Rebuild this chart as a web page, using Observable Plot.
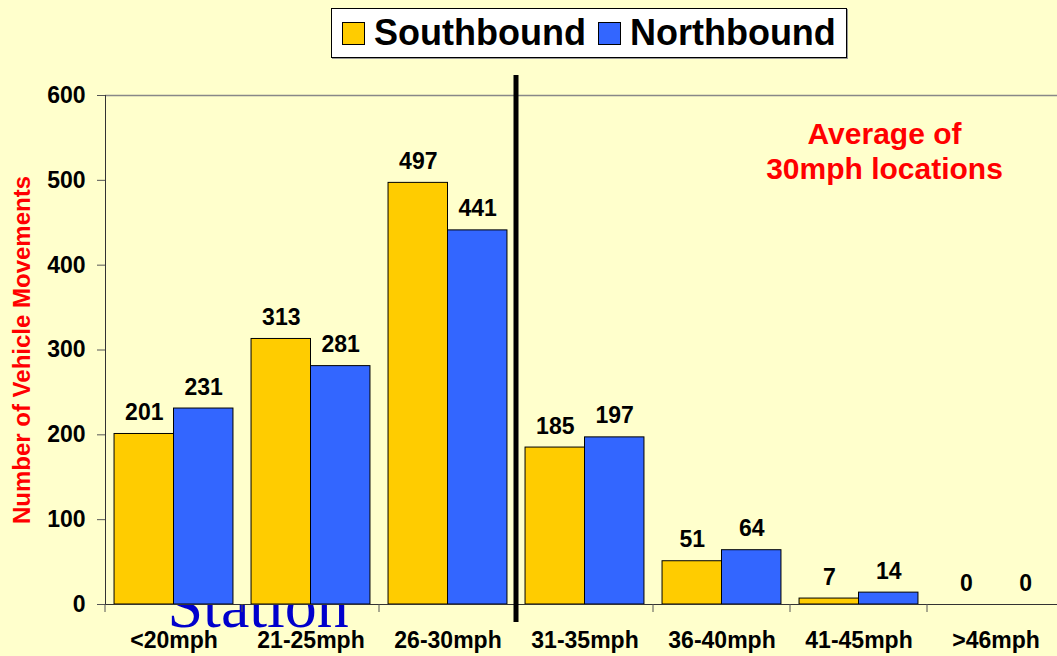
<!DOCTYPE html>
<html>
<head>
<meta charset="utf-8">
<script src="https://cdn.jsdelivr.net/npm/d3@7"></script>
<script src="https://cdn.jsdelivr.net/npm/@observablehq/plot@0.6"></script>
<style>
  html, body { margin: 0; padding: 0; background: #FFFFCC; }
  #wrap { position: relative; width: 1057px; height: 656px; overflow: hidden; background: #FFFFCC; }
  #legend {
    position: absolute; left: 331px; top: 8px; width: 514px; height: 48px; box-sizing: content-box;
    background: #fff; border: 1px solid #000; box-shadow: 1px 1px 0 #999;
    display: flex; align-items: center; justify-content: flex-start; gap: 12px; padding-left: 0;
    font-family: "Liberation Sans", Arial, sans-serif; font-weight: bold; font-size: 36px; color: #000;
  }
  #legend .sw { display: inline-block; width: 21px; height: 21px; border: 1px solid #000; margin-right: 9px; }
  #legend .item { display: flex; align-items: center; }
  #legend .item:first-child { margin-left: 10px; }
</style>
</head>
<body>
<div id="wrap"></div>
<script>
// ---- data ----
const categories = ["<20mph", "21-25mph", "26-30mph", "31-35mph", "36-40mph", "41-45mph", ">46mph"];
const southbound = [201, 313, 497, 185, 51, 7, 0];
const northbound = [231, 281, 441, 197, 64, 14, 0];
const seriesNames = ["Southbound", "Northbound"];
const seriesColors = ["#FFCC00", "#3366FF"];
const yTicks = [0, 100, 200, 300, 400, 500, 600];
const yTitle = "Number of Vehicle Movements";
const annotation = "Average of\n30mph locations";
const dividerBefore = "31-35mph";
const stray = "Station";

const sData = categories.map((c, i) => ({cat: c, dir: seriesNames[0], value: southbound[i]}));
const nData = categories.map((c, i) => ({cat: c, dir: seriesNames[1], value: northbound[i]}));

// ---- layout ----
const W = 1057, H = 656;
const plotLeft = 105, plotRight = 1064, plotTop = 95, plotBottom = 604;
const step = (plotRight - plotLeft) / categories.length;
const pad = step * 0.066;
const half = (step - 2 * pad) / 2;
const font = "'Liberation Sans', Arial, sans-serif";

function boundaryTicks(index, scales, values, dims) {
  const g = d3.create("svg:g");
  const x = scales.x;
  const bw = x.bandwidth ? x.bandwidth() : step;
  const y0 = dims.height - dims.marginBottom;
  const edges = categories.map(c => x(c)).concat([x(categories[categories.length - 1]) + bw]);
  for (const e of edges) {
    g.append("line").attr("x1", e).attr("x2", e).attr("y1", y0).attr("y2", y0 + 8)
      .attr("stroke", "#555").attr("stroke-width", 1);
  }
  const xd = x(dividerBefore);
  g.append("line").attr("x1", xd).attr("x2", xd)
    .attr("y1", dims.marginTop - 20).attr("y2", y0 + 18)
    .attr("stroke", "#000").attr("stroke-width", 5);
  return g.node();
}

const chart = Plot.plot({
  width: W, height: H,
  marginLeft: plotLeft, marginRight: 0, marginTop: plotTop, marginBottom: H - plotBottom,
  style: {background: "transparent", fontFamily: font, overflow: "visible"},
  x: {domain: categories, range: [plotLeft, plotRight], padding: 0, axis: null},
  y: {domain: [0, 600], axis: null},
  marks: [
    Plot.text([stray], {frameAnchor: "bottom-left", dx: 62, dy: 22, textAnchor: "start", lineAnchor: "bottom",
      fontFamily: "'Liberation Serif', 'Times New Roman', serif", fontSize: 64, fill: "#0000CC"}),
    Plot.frame({fill: "#FFFFCC", stroke: null}),
    Plot.ruleY([600], {stroke: "#888", strokeWidth: 1.5}),
    Plot.barY(sData, {x: "cat", y: "value", fill: seriesColors[0], stroke: "#000", strokeWidth: 1,
      insetLeft: pad, insetRight: step - pad - half}),
    Plot.barY(nData, {x: "cat", y: "value", fill: seriesColors[1], stroke: "#000", strokeWidth: 1,
      insetLeft: pad + half, insetRight: pad}),
    Plot.frame({anchor: "left", stroke: "#333"}),
    Plot.frame({anchor: "bottom", stroke: "#333"}),
    Plot.axisY({ticks: yTicks, tickSize: 8, tickPadding: 12, fontSize: 23, fontWeight: "bold",
      fill: "#000", stroke: "#555", label: null}),
    Plot.axisX({tickSize: 0, tickPadding: 27, fontSize: 23, fontWeight: "bold", fill: "#000", label: null}),
    boundaryTicks,
    Plot.text(sData, {x: "cat", y: "value", text: d => String(d.value), dx: -(step / 2 - pad - half / 2), dy: -14,
      lineAnchor: "bottom", fontSize: 23, fontWeight: "bold", fill: "#000"}),
    Plot.text(nData, {x: "cat", y: "value", text: d => String(d.value), dx: (step / 2 - pad - half / 2), dy: -14,
      lineAnchor: "bottom", fontSize: 23, fontWeight: "bold", fill: "#000"}),
    Plot.text([yTitle], {frameAnchor: "left", textAnchor: "middle", rotate: -90, dx: -83, fontSize: 24,
      fontWeight: "bold", fill: "#FF0000"}),
    Plot.text([annotation], {frameAnchor: "top-right", textAnchor: "middle", lineAnchor: "middle",
      dx: -173, dy: 55, lineHeight: 1.17, fontSize: 30, fontWeight: "bold", fill: "#FF0000"})
  ]
});

const wrap = document.getElementById("wrap");
wrap.appendChild(chart);
const legend = document.createElement("div");
legend.id = "legend";
legend.innerHTML = seriesNames.map((s, i) =>
  `<span class="item"><span class="sw" style="background:${seriesColors[i]}"></span>${s}</span>`).join("");
wrap.appendChild(legend);
</script>
</body>
</html>
